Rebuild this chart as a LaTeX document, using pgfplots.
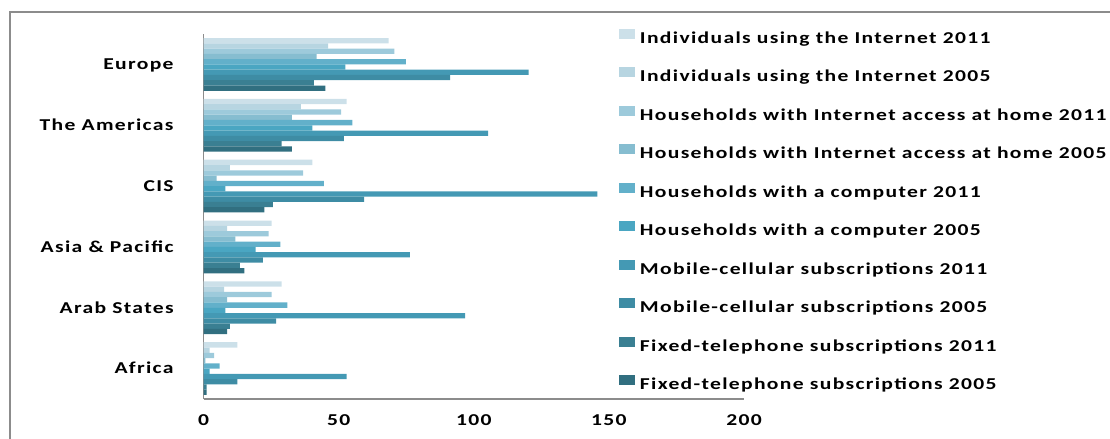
\documentclass[border=0pt]{standalone}
\usepackage{pgfplots}
\pgfplotsset{compat=1.18}
\usepackage{pgfplotstable}
\usepackage{fontspec}
\setmainfont{Carlito}[FakeStretch=1.3, LetterSpace=8]

% shades from light (internet use) to dark (fixed telephone)
\definecolor{c1}{HTML}{CCE0E9}
\definecolor{c2}{HTML}{B7D5E1}
\definecolor{c3}{HTML}{9DCADB}
\definecolor{c4}{HTML}{86BDD0}
\definecolor{c5}{HTML}{62B0CA}
\definecolor{c6}{HTML}{4AA6C2}
\definecolor{c7}{HTML}{4499B4}
\definecolor{c8}{HTML}{3E8CA4}
\definecolor{c9}{HTML}{3A7F92}
\definecolor{c10}{HTML}{316F80}
\definecolor{axisgray}{HTML}{8C8C8C}

% pos: 0 Africa, 1 Arab States, 2 Asia & Pacific, 3 CIS, 4 The Americas, 5 Europe
\pgfplotstableread{
pos ind11 ind05 hhi11 hhi05 hhc11 hhc05 mob11 mob05 fix11 fix05
0   12.5  2.3   3.9   0.7   6.0   2.3   53.0  12.5  1.2   1.2
1   28.9  7.6   25.2  8.7   31.0  8.1   96.8  26.9  9.8   8.7
2   25.2  8.7   24.1  11.8  28.4  19.3  76.4  22.0  13.5  15.1
3   40.3  9.8   36.9  4.9   44.5  8.1   145.7 59.4  25.7  22.5
4   53.0  36.0  50.9  32.7  55.1  40.3  105.3 51.9  28.9  32.7
5   68.5  46.1  70.6  41.9  74.9  52.5  120.3 91.3  40.8  45.1
}\regions

\newcommand\lblfont{\fontsize{8.3}{10}\selectfont\bfseries}

\begin{document}
\begin{tikzpicture}
% chart frame
\draw[axisgray, line width=1pt] (5pt,-6pt) rectangle (600pt,-260pt);

\begin{axis}[
  at={(101.75pt,-199.5pt)}, anchor=south west,
  scale only axis, width=270.25pt, height=182.5pt,
  xmin=0, xmax=200, ymin=-0.5, ymax=5.5,
  xbar, bar width=2.635pt,
  axis lines*=left,
  axis line style={draw=axisgray, line width=0.8pt},
  major tick length=0pt,
  xtick={0,50,...,200}, ytick={0,...,5},
  yticklabels={Africa, Arab States, Asia \& Pacific, CIS, The Americas, Europe},
  ticklabel style={font=\lblfont},
  /pgf/number format/assume math mode=true,
  yticklabel style={anchor=base east, inner sep=0pt, xshift=-14.75pt, yshift=-2.7pt},
  xticklabel style={anchor=base, inner sep=0pt, yshift=-13.2pt},
  legend cell align=left,
  legend image code/.code={\fill[#1,draw=none] (0pt,0.2pt) rectangle (8pt,5.2pt);},
  legend style={at={(0.7687,1.014)}, anchor=north west, draw=none, fill=none,
    inner sep=0pt, outer sep=0pt, row sep=10.04pt, column sep=2.5pt,
    nodes={inner sep=0pt, text height=6pt, text depth=2pt, font=\lblfont}},
]
\addplot[fill=c1,  draw=none, bar shift=11.8575pt]  table[x=ind11, y=pos] {\regions};
\addplot[fill=c2,  draw=none, bar shift=9.2225pt]   table[x=ind05, y=pos] {\regions};
\addplot[fill=c3,  draw=none, bar shift=6.5875pt]   table[x=hhi11, y=pos] {\regions};
\addplot[fill=c4,  draw=none, bar shift=3.9525pt]   table[x=hhi05, y=pos] {\regions};
\addplot[fill=c5,  draw=none, bar shift=1.3175pt]   table[x=hhc11, y=pos] {\regions};
\addplot[fill=c6,  draw=none, bar shift=-1.3175pt]  table[x=hhc05, y=pos] {\regions};
\addplot[fill=c7,  draw=none, bar shift=-3.9525pt]  table[x=mob11, y=pos] {\regions};
\addplot[fill=c8,  draw=none, bar shift=-6.5875pt]  table[x=mob05, y=pos] {\regions};
\addplot[fill=c9,  draw=none, bar shift=-9.2225pt]  table[x=fix11, y=pos] {\regions};
\addplot[fill=c10, draw=none, bar shift=-11.8575pt] table[x=fix05, y=pos] {\regions};
\legend{Individuals using the Internet 2011,
  Individuals using the Internet 2005,
  Households with Internet access at home 2011,
  Households with Internet access at home 2005,
  Households with a computer 2011,
  Households with a computer 2005,
  Mobile-cellular subscriptions 2011,
  Mobile-cellular subscriptions 2005,
  Fixed-telephone subscriptions 2011,
  Fixed-telephone subscriptions 2005}
\end{axis}

\pgfresetboundingbox
\path[use as bounding box] (0pt,0pt) rectangle (555pt,-219.5pt);
\end{tikzpicture}
\end{document}
